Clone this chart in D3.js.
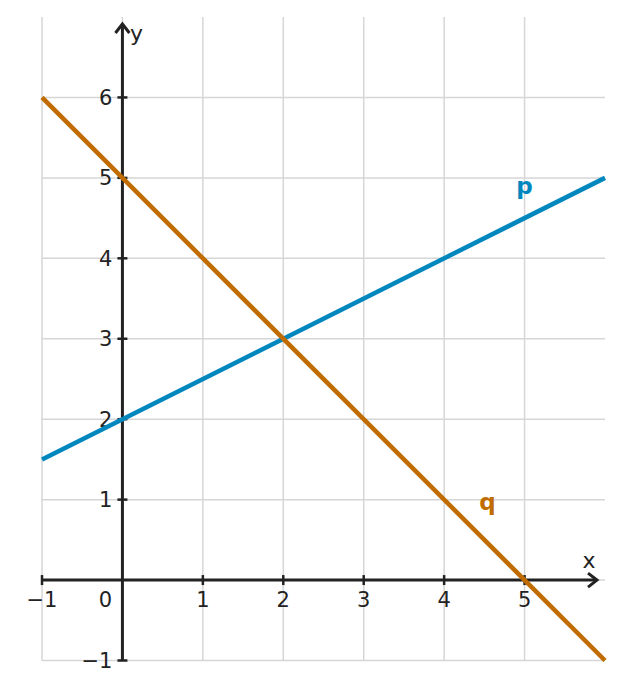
<!DOCTYPE html>
<html>
<head>
<meta charset="utf-8">
<script src="https://cdn.jsdelivr.net/npm/d3@7"></script>
<style>
  body { margin: 0; background: #fff; }
  svg { font-family: "DejaVu Sans", sans-serif; }
</style>
</head>
<body>
<svg id="chart" width="622" height="689"></svg>
<script>
// data
const xTicks = [-1, 0, 1, 2, 3, 4, 5];
const yTicks = [-1, 0, 1, 2, 3, 4, 5, 6];
const xGrid = [-1, 0, 1, 2, 3, 4, 5];
const yGrid = [-1, 0, 1, 2, 3, 4, 5, 6];
const lineP = [{x: -1, y: 1.5}, {x: 6, y: 5}];
const lineQ = [{x: -1, y: 6}, {x: 6, y: -1}];
const lineLabels = [
  {name: 'p', x: 5.0, y: 4.8, color: '#0087be'},
  {name: 'q', x: 4.54, y: 0.87, color: '#c06c00'}
];

const svg = d3.select('#chart');
const xScale = d3.scaleLinear().domain([-1, 6]).range([42, 605]);
const yScale = d3.scaleLinear().domain([-1, 7]).range([660.5, 17]);

// grid
svg.append('g').selectAll('line').data(xGrid).join('line')
  .attr('x1', d => xScale(d)).attr('x2', d => xScale(d))
  .attr('y1', yScale(-1)).attr('y2', yScale(7))
  .attr('stroke', '#d6d6d6').attr('stroke-width', 1.5);
svg.append('g').selectAll('line').data(yGrid).join('line')
  .attr('y1', d => yScale(d)).attr('y2', d => yScale(d))
  .attr('x1', xScale(-1)).attr('x2', xScale(6))
  .attr('stroke', '#d6d6d6').attr('stroke-width', 1.5);

// axes
const axisColor = '#222';
const xAxis = svg.append('g');
xAxis.append('line')
  .attr('x1', xScale(-1)).attr('x2', xScale(6) - 8)
  .attr('y1', yScale(0)).attr('y2', yScale(0))
  .attr('stroke', axisColor).attr('stroke-width', 3);
xAxis.append('path')
  .attr('d', `M${xScale(6) - 17},${yScale(0) - 7} L${xScale(6) - 8},${yScale(0)} L${xScale(6) - 17},${yScale(0) + 7}`)
  .attr('fill', 'none').attr('stroke', axisColor).attr('stroke-width', 3);
xAxis.selectAll('.tick').data(xTicks.filter(d => d !== 0)).join('line')
  .attr('x1', d => xScale(d)).attr('x2', d => xScale(d))
  .attr('y1', yScale(0) - 5).attr('y2', yScale(0) + 5)
  .attr('stroke', axisColor).attr('stroke-width', 2.5);
xAxis.selectAll('text').data(xTicks).join('text')
  .attr('x', d => d === 0 ? xScale(0) - 17 : xScale(d))
  .attr('y', yScale(0) + 27)
  .attr('text-anchor', 'middle')
  .attr('font-size', 21).attr('fill', axisColor)
  .text(d => d < 0 ? '\u2212' + Math.abs(d) : d);

const yAxis = svg.append('g');
yAxis.append('line')
  .attr('x1', xScale(0)).attr('x2', xScale(0))
  .attr('y1', yScale(-1)).attr('y2', yScale(7) + 7)
  .attr('stroke', axisColor).attr('stroke-width', 3);
yAxis.append('path')
  .attr('d', `M${xScale(0) - 7},${yScale(7) + 16} L${xScale(0)},${yScale(7) + 7} L${xScale(0) + 7},${yScale(7) + 16}`)
  .attr('fill', 'none').attr('stroke', axisColor).attr('stroke-width', 3);
yAxis.selectAll('.tick').data(yTicks.filter(d => d !== 0)).join('line')
  .attr('x1', xScale(0) - 5).attr('x2', xScale(0) + 5)
  .attr('y1', d => yScale(d)).attr('y2', d => yScale(d))
  .attr('stroke', axisColor).attr('stroke-width', 2.5);
yAxis.selectAll('text').data(yTicks.filter(d => d !== 0)).join('text')
  .attr('x', xScale(0) - 10)
  .attr('y', d => yScale(d) + 7.5)
  .attr('text-anchor', 'end')
  .attr('font-size', 21).attr('fill', axisColor)
  .text(d => d < 0 ? '\u2212' + Math.abs(d) : d);

svg.append('text').attr('x', xScale(6) - 16).attr('y', yScale(0) - 12)
  .attr('text-anchor', 'middle').attr('font-size', 22).attr('fill', axisColor).text('x');
svg.append('text').attr('x', xScale(0) + 14).attr('y', yScale(7) + 24)
  .attr('text-anchor', 'middle').attr('font-size', 22).attr('fill', axisColor).text('y');

// lines
const line = d3.line().x(d => xScale(d.x)).y(d => yScale(d.y));
svg.append('path').datum(lineP).attr('d', line)
  .attr('fill', 'none').attr('stroke', '#0087be').attr('stroke-width', 4.5);
svg.append('path').datum(lineQ).attr('d', line)
  .attr('fill', 'none').attr('stroke', '#c06c00').attr('stroke-width', 4.5);

svg.selectAll('.lbl').data(lineLabels).join('text')
  .attr('x', d => xScale(d.x)).attr('y', d => yScale(d.y))
  .attr('text-anchor', 'middle').attr('font-size', 23).attr('font-weight', 'bold')
  .attr('fill', d => d.color).text(d => d.name);
</script>
</body>
</html>
